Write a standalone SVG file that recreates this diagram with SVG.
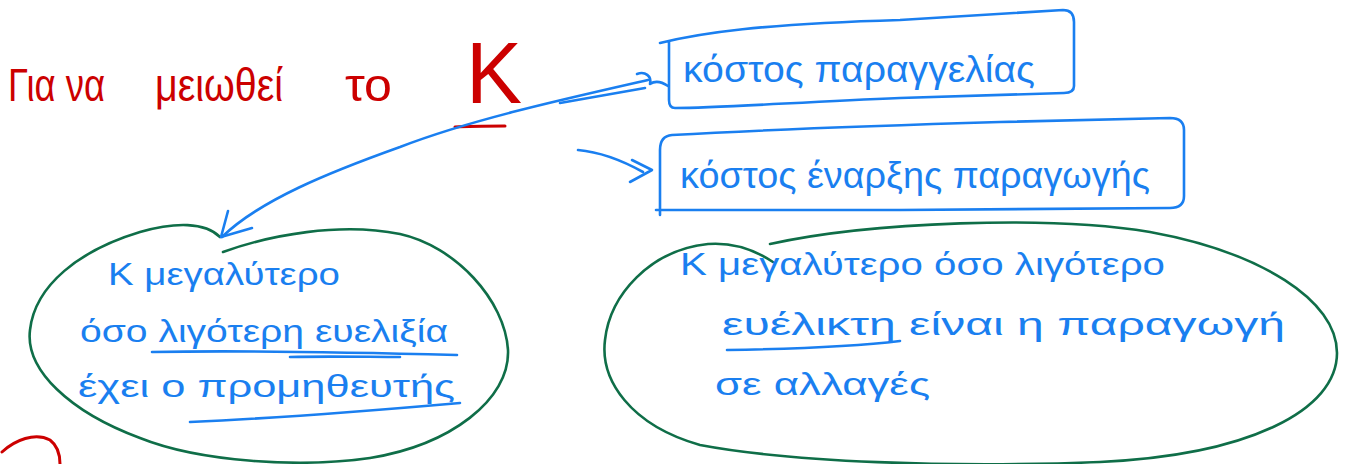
<svg xmlns="http://www.w3.org/2000/svg" width="1347" height="464" viewBox="0 0 1347 464">
  <style>
    .ink { fill: none; stroke-linecap: round; stroke-linejoin: round; }
    .red { stroke: #cc0000; stroke-width: 3; }
    .blue { stroke: #1a7ff0; stroke-width: 2.6; }
    .green { stroke: #0f6e48; stroke-width: 2.6; }
    .t { font-family: "Liberation Sans", "DejaVu Sans", sans-serif; }
    .tred { fill: #cc0000; font-size: 46px; }
    .tblue { fill: #1a7ff0; font-size: 32px; }
    .big { font-size: 36px; }
    .huge { font-size: 88px; }
  </style>

  <rect width="1347" height="464" fill="#ffffff"/>

  <!-- title -->
  <g id="title">
    <text class="t tred" x="8" y="101" textLength="97" lengthAdjust="spacingAndGlyphs">Για να</text>
    <text class="t tred" x="155" y="101" textLength="128" lengthAdjust="spacingAndGlyphs">μειωθεί</text>
    <text class="t tred" x="345" y="101" textLength="47" lengthAdjust="spacingAndGlyphs">το</text>
    <text class="t tred huge" x="466" y="103" textLength="56" lengthAdjust="spacingAndGlyphs">K</text>
    <path class="ink red" d="M455,127 C470,126 490,126 505,126"/>
  </g>

  <!-- cost boxes -->
  <g id="order-cost">
    <path class="ink blue" d="M660,43 C700,33 760,24 900,20 L1063,10 Q1074,10 1074,22 L1074,86 Q1074,93 1064,93 L900,98 C800,102 720,108 675,108 Q669,108 669,100 L669,42"/>
    <text class="t tblue big" x="683" y="82" textLength="352" lengthAdjust="spacingAndGlyphs">κόστος παραγγελίας</text>
  </g>

  <g id="setup-cost">
    <path class="ink blue" d="M672,135 C760,130 900,125 1000,122 L1170,118 Q1184,118 1184,130 L1184,196 Q1184,208 1170,208 L900,210 L656,210 M660,215 L660,150 Q660,136 672,135"/>
    <text class="t tblue big" x="680" y="188" textLength="470" lengthAdjust="spacingAndGlyphs">κόστος έναρξης παραγωγής</text>
  </g>

  <!-- supplier flexibility -->
  <g id="supplier">
    <path class="ink green" d="M223,252 C270,235 340,222 400,234 C455,246 505,300 508,350 C510,400 450,445 370,458 C300,468 200,462 140,438 C70,412 25,370 30,330 C35,285 80,250 140,232 C175,222 205,222 220,237"/>
    <text class="t tblue" x="108" y="285" textLength="232" lengthAdjust="spacingAndGlyphs">K μεγαλύτερο</text>
    <text class="t tblue" x="80" y="342" textLength="368" lengthAdjust="spacingAndGlyphs">όσο λιγότερη ευελιξία</text>
    <text class="t tblue" x="78" y="397" textLength="377" lengthAdjust="spacingAndGlyphs">έχει ο προμηθευτής</text>
    <path class="ink blue" d="M152,352 C250,350 380,353 457,355 M290,357 C330,356 370,357 400,357"/>
    <path class="ink blue" d="M190,422 C280,418 380,410 460,403"/>
  </g>

  <!-- production flexibility -->
  <g id="production">
    <path class="ink green" d="M770,244 C870,222 1050,215 1150,232 C1260,252 1337,300 1337,353 C1337,410 1250,455 1100,462 C950,468 790,462 700,445 C630,425 600,380 605,340 C610,295 650,250 708,244 C735,242 755,250 773,262"/>
    <text class="t tblue" x="680" y="275" textLength="485" lengthAdjust="spacingAndGlyphs">K μεγαλύτερο όσο λιγότερο</text>
    <text class="t tblue" x="722" y="335" textLength="563" lengthAdjust="spacingAndGlyphs">ευέλικτη είναι η παραγωγή</text>
    <text class="t tblue" x="715" y="395" textLength="215" lengthAdjust="spacingAndGlyphs">σε αλλαγές</text>
    <path class="ink blue" d="M727,350 C790,349 860,346 900,341"/>
  </g>

  <!-- stray mark -->
  <g id="mark">
    <path class="ink red" d="M2,452 C15,440 35,432 50,440 C58,446 60,455 60,464"/>
  </g>

  <!-- connectors -->
  <g id="connectors">
    <path class="ink blue" d="M648,80 C560,100 470,120 400,147 C330,172 260,200 222,237"/>
    <path class="ink blue" d="M560,103 L645,88"/>
    <path class="ink blue" d="M637,74 C645,71 652,76 650,84 C656,80 662,82 668,86"/>
    <path class="ink blue" d="M228,211 L221,237 L252,228"/>
    <path class="ink blue" d="M578,150 C600,152 625,162 643,172"/>
    <path class="ink blue" d="M632,160 L652,170 L630,182"/>
  </g>
</svg>
